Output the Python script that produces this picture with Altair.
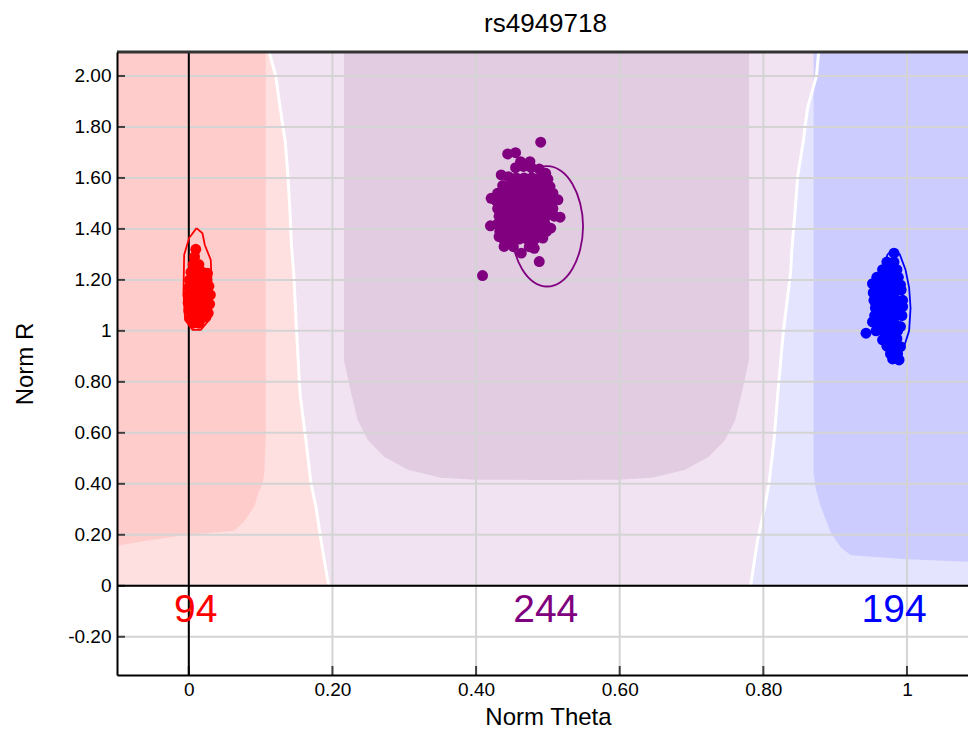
import altair as alt
import pandas as pd

FONT = "Liberation Sans"
TITLE = "rs4949718"
X_TITLE = "Norm Theta"
Y_TITLE = "Norm R"

X_MIN, X_MAX = -0.1, 1.085
Y_MIN, Y_MAX = -0.35, 2.094
X_TICKS = [0, 0.2, 0.4, 0.6, 0.8, 1.0]
Y_TICKS = [-0.2, 0, 0.2, 0.4, 0.6, 0.8, 1.0, 1.2, 1.4, 1.6, 1.8, 2.0]

# genotype zone separators (Norm Theta at each Norm R)
ZONE_R = [0, 0.012, 0.18, 0.31, 0.404, 0.573, 0.75, 1.0, 1.23, 1.33, 1.46, 1.61, 1.75, 1.8, 1.88, 2.0, 2.094]
SEP_AA_AB = [0.195, 0.194, 0.184, 0.177, 0.170, 0.163, 0.155, 0.150, 0.146, 0.143, 0.141, 0.138, 0.134, 0.131, 0.127, 0.121, 0.112]
SEP_AB_BB = [0.782, 0.783, 0.792, 0.802, 0.808, 0.815, 0.820, 0.828, 0.838, 0.840, 0.844, 0.848, 0.856, 0.858, 0.862, 0.874, 0.877]

# core (high-confidence) regions: theta and lower R boundary
AA_CORE_THETA = [-0.1, -0.053, 0.0, 0.031, 0.063, 0.077, 0.091, 0.097, 0.103, 0.105, 0.107]
AA_CORE_RLOW = [0.157, 0.18, 0.2, 0.208, 0.216, 0.251, 0.31, 0.365, 0.404, 0.443, 0.573]
AB_CORE_THETA = [0.216, 0.226, 0.235, 0.249, 0.272, 0.305, 0.351, 0.40, 0.498, 0.596, 0.645, 0.691, 0.724, 0.747, 0.761, 0.770, 0.780]
AB_CORE_RLOW = [0.886, 0.757, 0.651, 0.573, 0.506, 0.455, 0.424, 0.416, 0.415, 0.416, 0.424, 0.455, 0.506, 0.573, 0.651, 0.757, 0.886]
BB_CORE_THETA = [0.870, 0.873, 0.880, 0.894, 0.908, 0.922, 1.0, 1.085]
BB_CORE_RLOW = [0.443, 0.38, 0.31, 0.208, 0.15, 0.12, 0.104, 0.094]

# samples (AA cluster)
AA_THETA = [0.0097,
            0.008,
            0.006, 0.014,
            0.003, 0.011, 0.019, 0.026,
            0.001, 0.009, 0.017, 0.025,
            0.000, 0.008, 0.016, 0.024, 0.028,
            -0.001, 0.007, 0.015, 0.023, 0.030,
            -0.001, 0.007, 0.015, 0.023, 0.029,
            0.000, 0.008, 0.016, 0.024, 0.027,
            0.002, 0.010, 0.018, 0.024,
            0.006, 0.014]
AA_R = [1.320,
        1.290,
        1.260, 1.260,
        1.230, 1.230, 1.230, 1.226,
        1.200, 1.200, 1.200, 1.200,
        1.170, 1.170, 1.170, 1.170, 1.175,
        1.140, 1.140, 1.140, 1.140, 1.141,
        1.110, 1.110, 1.110, 1.110, 1.105,
        1.080, 1.080, 1.080, 1.080, 1.070,
        1.050, 1.050, 1.050, 1.055,
        1.030, 1.030]

# samples (AB cluster)
AB_THETA = [0.490, 0.444, 0.455, 0.409, 0.488, 0.462, 0.497, 0.435, 0.475, 0.432,
            0.455, 0.466, 0.477, 0.488,
            0.445, 0.456, 0.467, 0.478, 0.489, 0.500,
            0.437, 0.448, 0.459, 0.470, 0.481, 0.492, 0.503,
            0.430, 0.441, 0.452, 0.463, 0.474, 0.485, 0.496, 0.507,
            0.421, 0.428, 0.439, 0.450, 0.461, 0.472, 0.483, 0.494, 0.505, 0.514,
            0.430, 0.441, 0.452, 0.463, 0.474, 0.485, 0.496, 0.507, 0.517,
            0.432, 0.443, 0.454, 0.465, 0.476, 0.487, 0.498, 0.509,
            0.420, 0.430, 0.441, 0.452, 0.463, 0.474, 0.485, 0.496, 0.504,
            0.433, 0.444, 0.455, 0.466, 0.477, 0.488, 0.498,
            0.438, 0.449, 0.460, 0.471, 0.482, 0.493,
            0.439, 0.452, 0.463, 0.474, 0.481]
AB_R = [1.740, 1.694, 1.699, 1.217, 1.272, 1.664, 1.618, 1.612, 1.664, 1.370,
        1.640, 1.645, 1.640, 1.635,
        1.605, 1.600, 1.600, 1.600, 1.600, 1.595,
        1.570, 1.570, 1.570, 1.570, 1.570, 1.570, 1.566,
        1.540, 1.540, 1.540, 1.540, 1.540, 1.540, 1.540, 1.540,
        1.520, 1.510, 1.510, 1.510, 1.510, 1.510, 1.510, 1.510, 1.510, 1.514,
        1.480, 1.480, 1.480, 1.480, 1.480, 1.480, 1.480, 1.480, 1.446,
        1.450, 1.450, 1.450, 1.450, 1.450, 1.450, 1.450, 1.450,
        1.412, 1.420, 1.420, 1.420, 1.420, 1.420, 1.420, 1.420, 1.403,
        1.390, 1.390, 1.390, 1.390, 1.390, 1.390, 1.390,
        1.360, 1.360, 1.360, 1.360, 1.360, 1.364,
        1.331, 1.330, 1.305, 1.330, 1.324]

# samples (BB cluster)
BB_THETA = [0.982,
            0.972, 0.982,
            0.966, 0.976, 0.986,
            0.958, 0.968, 0.978, 0.988,
            0.952, 0.962, 0.972, 0.982, 0.991,
            0.953, 0.963, 0.973, 0.983, 0.992,
            0.954, 0.964, 0.974, 0.984, 0.994,
            0.956, 0.966, 0.976, 0.986, 0.994,
            0.955, 0.965, 0.975, 0.985, 0.993,
            0.952, 0.962, 0.972, 0.982, 0.991,
            0.957, 0.967, 0.977, 0.987,
            0.943,
            0.966, 0.976, 0.986,
            0.972, 0.982, 0.991,
            0.977, 0.987,
            0.980, 0.989]
BB_R = [1.305,
        1.270, 1.270,
        1.240, 1.240, 1.240,
        1.210, 1.210, 1.210, 1.210,
        1.185, 1.180, 1.180, 1.180, 1.180,
        1.150, 1.150, 1.150, 1.150, 1.161,
        1.120, 1.120, 1.120, 1.120, 1.120,
        1.090, 1.090, 1.090, 1.090, 1.095,
        1.060, 1.060, 1.060, 1.060, 1.060,
        1.035, 1.030, 1.030, 1.030, 1.017,
        1.000, 1.000, 1.000, 1.000,
        0.991,
        0.965, 0.970, 0.970,
        0.940, 0.940, 0.938,
        0.910, 0.910,
        0.890, 0.886]

# cluster outlines
AA_OUT_THETA = [0.0107, 0.019, 0.0223, 0.0306, 0.032, 0.0283, 0.0167, 0.0052, -0.0052, -0.0074, -0.0065, 0.0004, 0.0107]
AA_OUT_R = [1.403, 1.383, 1.337, 1.278, 1.161, 1.043, 1.004, 1.004, 1.043, 1.149, 1.298, 1.364, 1.403]
AB_OUT_THETA = [0.499, 0.518, 0.534, 0.545, 0.549, 0.545, 0.534, 0.518, 0.499, 0.480, 0.464, 0.453, 0.449, 0.453, 0.464, 0.480]
AB_OUT_R = [1.646, 1.628, 1.577, 1.500, 1.410, 1.320, 1.243, 1.192, 1.174, 1.192, 1.243, 1.320, 1.410, 1.500, 1.577, 1.628]
BB_OUT_THETA = [0.981, 0.990, 0.998, 1.003, 1.005, 1.003, 0.995, 0.984, 0.970, 0.962, 0.958, 0.960, 0.966, 0.973, 0.981]
BB_OUT_R = [1.320, 1.300, 1.240, 1.170, 1.090, 1.000, 0.930, 0.900, 0.930, 1.000, 1.090, 1.170, 1.240, 1.300, 1.320]

COUNT_LABELS = ["94", "244", "194"]
COUNT_THETA = [0.0097, 0.497, 0.982]
COUNT_R = [-0.094, -0.094, -0.094]
CLUSTER_COLORS = ["#ff0000", "#800080", "#0000ff"]
ZONE_LIGHT = ["#ffe0e0", "#f1e3f1", "#e4e4ff"]
ZONE_CORE = ["#ffcccc", "#e2cce2", "#ccccff"]

XS = alt.Scale(domain=[X_MIN, X_MAX], nice=False, zero=False)
YS = alt.Scale(domain=[Y_MIN, Y_MAX], nice=False, zero=False)

LABEL_EXPR = ("abs(datum.value) < 0.000001 ? '0' : (abs(datum.value - 1) < 0.000001 ? '1' : "
              "(datum.value < 0 ? '-' + format(-datum.value, '.2f') : format(datum.value, '.2f')))")

XAXIS = alt.Axis(values=X_TICKS, labelExpr=LABEL_EXPR, ticks=False, grid=False, domain=True,
                 domainColor="black", domainWidth=2, labelFont=FONT, labelFontSize=19,
                 labelColor="black", labelPadding=5, titleFont=FONT, titleFontSize=24,
                 titleFontWeight="normal", titleColor="black",
                 titleX=431, titleY=42, titleAlign="center", titleBaseline="middle", zindex=1)
YAXIS = alt.Axis(values=Y_TICKS, labelExpr=LABEL_EXPR, ticks=False, grid=False, domain=True,
                 domainColor="black", domainWidth=2, labelFont=FONT, labelFontSize=19,
                 labelColor="black", labelPadding=6, titleFont=FONT, titleFontSize=24,
                 titleFontWeight="normal", titleColor="black", titlePadding=30, zindex=1)


def X(field):
    return alt.X(field, scale=XS, axis=XAXIS, title=X_TITLE)


def Y(field):
    return alt.Y(field, scale=YS, axis=YAXIS, title=Y_TITLE)


layers = []

# light zones (horizontal bands)
zone_df = pd.DataFrame({"r": ZONE_R, "a": SEP_AA_AB, "b": SEP_AB_BB})
zone_df["lo"] = X_MIN
zone_df["hi"] = X_MAX
for i, (c1, c2) in enumerate([("lo", "a"), ("a", "b"), ("b", "hi")]):
    layers.append(alt.Chart(zone_df).mark_area(orient="horizontal", color=ZONE_LIGHT[i], clip=True)
                  .encode(y=Y("r:Q"), x=X(f"{c1}:Q"), x2=f"{c2}:Q"))

# core zones (vertical bands)
for i, (th, rl) in enumerate([(AA_CORE_THETA, AA_CORE_RLOW), (AB_CORE_THETA, AB_CORE_RLOW), (BB_CORE_THETA, BB_CORE_RLOW)]):
    df = pd.DataFrame({"t": th, "rl": rl})
    df["rh"] = Y_MAX
    layers.append(alt.Chart(df).mark_area(orient="vertical", color=ZONE_CORE[i], clip=True)
                  .encode(x=X("t:Q"), y=Y("rl:Q"), y2="rh:Q"))

# white separators
for sep in (SEP_AA_AB, SEP_AB_BB):
    df = pd.DataFrame({"r": ZONE_R, "t": sep})
    layers.append(alt.Chart(df).mark_line(color="white", strokeWidth=3, clip=True)
                  .encode(x=X("t:Q"), y=Y("r:Q"), order=alt.Order("r:Q")))

# grid
gx = pd.DataFrame({"v": X_TICKS})
gy = pd.DataFrame({"v": Y_TICKS})
layers.append(alt.Chart(gx).mark_rule(color="#d4d4d4", strokeWidth=2).encode(x=X("v:Q")))
layers.append(alt.Chart(gy).mark_rule(color="#d4d4d4", strokeWidth=2).encode(y=Y("v:Q")))

# zero lines
z = pd.DataFrame({"v": [0]})
layers.append(alt.Chart(z).mark_rule(color="black", strokeWidth=2).encode(x=X("v:Q")))
layers.append(alt.Chart(z).mark_rule(color="black", strokeWidth=2).encode(y=Y("v:Q")))

# outlines
for th, rr, col, interp in [(AA_OUT_THETA, AA_OUT_R, CLUSTER_COLORS[0], "linear"),
                            (AB_OUT_THETA, AB_OUT_R, CLUSTER_COLORS[1], "cardinal-closed"),
                            (BB_OUT_THETA, BB_OUT_R, CLUSTER_COLORS[2], "linear")]:
    df = pd.DataFrame({"t": th, "r": rr, "i": list(range(len(th)))})
    layers.append(alt.Chart(df).mark_line(color=col, strokeWidth=1.8, interpolate=interp)
                  .encode(x=X("t:Q"), y=Y("r:Q"), order=alt.Order("i:Q")))

# points
pts = pd.concat([
    pd.DataFrame({"t": AA_THETA, "r": AA_R, "c": CLUSTER_COLORS[0]}),
    pd.DataFrame({"t": AB_THETA, "r": AB_R, "c": CLUSTER_COLORS[1]}),
    pd.DataFrame({"t": BB_THETA, "r": BB_R, "c": CLUSTER_COLORS[2]}),
])
layers.append(alt.Chart(pts).mark_circle(size=120, opacity=1)
              .encode(x=X("t:Q"), y=Y("r:Q"), color=alt.Color("c:N", scale=None)))

# counts
cnt = pd.DataFrame({"t": COUNT_THETA, "r": COUNT_R, "lab": COUNT_LABELS, "c": CLUSTER_COLORS})
layers.append(alt.Chart(cnt).mark_text(font=FONT, fontSize=39, baseline="middle", align="center")
              .encode(x=X("t:Q"), y=Y("r:Q"), text="lab:N", color=alt.Color("c:N", scale=None)))

# top border
layers.append(alt.Chart(pd.DataFrame({"v": [Y_MAX]})).mark_rule(color="#333333", strokeWidth=3)
              .encode(y=Y("v:Q")))

# inward ticks
layers.append(alt.Chart(gy).mark_tick(orient="horizontal", size=8, thickness=2, xOffset=4, color="black")
              .encode(y=Y("v:Q"), x=alt.XDatum(X_MIN, scale=XS, axis=XAXIS, title=X_TITLE)))
layers.append(alt.Chart(gx).mark_tick(orient="vertical", size=9, thickness=2, yOffset=-4.5, color="black")
              .encode(x=X("v:Q"), y=alt.YDatum(Y_MIN, scale=YS, axis=YAXIS, title=Y_TITLE)))

chart = alt.layer(*layers).properties(
    width=851, height=623,
    title=alt.TitleParams(TITLE, font=FONT, fontSize=26, fontWeight="normal", color="black", offset=14, dx=3),
    padding={"left": 117, "top": 52, "right": 0, "bottom": 56},
    autosize=alt.AutoSizeParams(type="none"),
    background="white",
).configure_view(strokeOpacity=0)

chart.save("out.html", embed_options={"renderer": "svg", "actions": False})
